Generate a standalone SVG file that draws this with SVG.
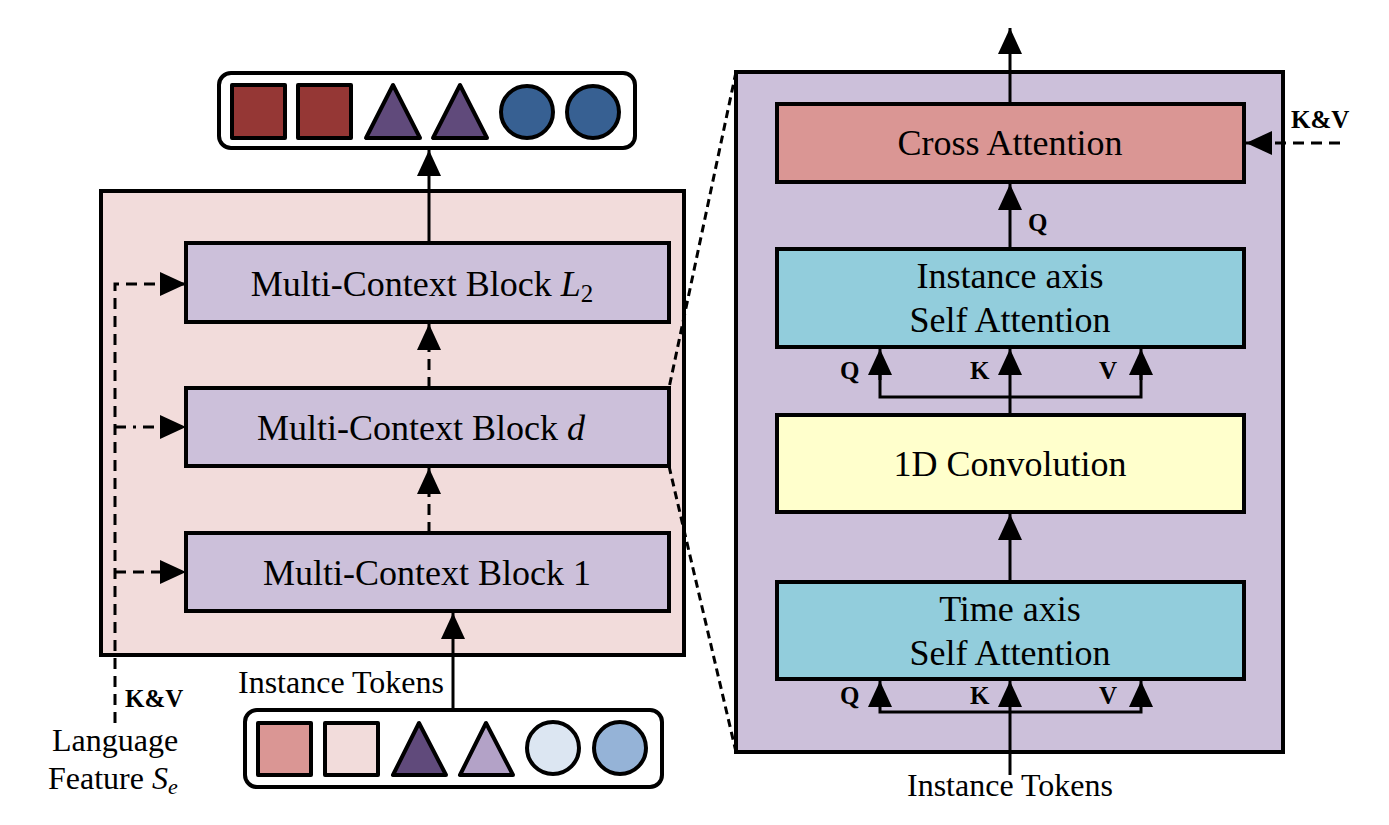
<svg xmlns="http://www.w3.org/2000/svg" width="1389" height="825" viewBox="0 0 1389 825">
<style>
.box{stroke:#000;stroke-width:4}
.blk{fill:#CCC0DA;stroke:#000;stroke-width:4}
.t{font-family:"Liberation Serif",serif;font-size:36px;fill:#000;text-anchor:middle}
.s{font-family:"Liberation Serif",serif;font-size:32px;fill:#000}
.b{font-family:"Liberation Serif",serif;font-size:25px;font-weight:bold;fill:#000}
.ln{stroke:#000;stroke-width:3;fill:none}
.dash{stroke:#000;stroke-width:3;fill:none;stroke-dasharray:11 7}
.tok{stroke:#000;stroke-width:4;stroke-linejoin:round}
</style>
<defs>
<marker id="ah" viewBox="0 0 26 24" refX="26" refY="12" markerWidth="26" markerHeight="24" markerUnits="userSpaceOnUse" orient="auto">
<path d="M0,0 L26,12 L0,24 Z" fill="#000"/>
</marker>
</defs>
<rect width="1389" height="825" fill="#fff"/>

<g id="left-panel">
<rect x="101" y="191" width="583" height="464" fill="#F2DCDB" class="box"/>
</g>
<g id="block-L2">
<rect x="186" y="243" width="483" height="79" class="blk"/>
<text class="t" x="422" y="296">Multi-Context Block <tspan font-style="italic">L</tspan><tspan font-size="25" dy="6">2</tspan></text>
</g>
<g id="block-d">
<rect x="186" y="388" width="483" height="78" class="blk"/>
<text class="t" x="421" y="440">Multi-Context Block <tspan font-style="italic">d</tspan></text>
</g>
<g id="block-1">
<rect x="186" y="533" width="483" height="78" class="blk"/>
<text class="t" x="427" y="585">Multi-Context Block 1</text>
</g>

<g id="output-tokens">
<rect x="219" y="73" width="416" height="75" rx="12" fill="#fff" class="box"/>
<rect x="232" y="85" width="53" height="53" fill="#953735" class="tok"/>
<rect x="298" y="85" width="53" height="53" fill="#953735" class="tok"/>
<polygon points="393,85 366,138 420,138" fill="#604A7B" class="tok"/>
<polygon points="460,85 433,138 487,138" fill="#604A7B" class="tok"/>
<circle cx="527" cy="112" r="26" fill="#376092" class="tok"/>
<circle cx="593" cy="112" r="26" fill="#376092" class="tok"/>
</g>

<g id="input-tokens">
<rect x="245" y="710" width="417" height="77" rx="12" fill="#fff" class="box"/>
<rect x="258" y="723" width="53" height="52" fill="#DA9694" class="tok"/>
<rect x="325" y="723" width="53" height="52" fill="#F2DCDB" class="tok"/>
<polygon points="419,723 393,775 446,775" fill="#604A7B" class="tok"/>
<polygon points="486,723 460,775 513,775" fill="#B3A2C7" class="tok"/>
<circle cx="553" cy="748" r="26" fill="#DCE6F2" class="tok"/>
<circle cx="620" cy="748" r="26" fill="#95B3D7" class="tok"/>
</g>

<g id="right-panel">
<rect x="736" y="72" width="547" height="680" fill="#CCC0DA" class="box"/>
</g>
<g id="cross-attention">
<rect x="777" y="104" width="467" height="78" fill="#DA9694" class="box"/>
<text class="t" x="1010" y="155">Cross Attention</text>
</g>
<g id="instance-axis-sa">
<rect x="777" y="249" width="467" height="98" fill="#92CDDC" class="box"/>
<text class="t" x="1010" y="288">Instance axis</text>
<text class="t" x="1010" y="332">Self Attention</text>
</g>
<g id="conv1d">
<rect x="777" y="415" width="467" height="97" fill="#FFFFCC" class="box"/>
<text class="t" x="1010" y="476">1D Convolution</text>
</g>
<g id="time-axis-sa">
<rect x="777" y="582" width="467" height="97" fill="#92CDDC" class="box"/>
<text class="t" x="1010" y="621">Time axis</text>
<text class="t" x="1010" y="665">Self Attention</text>
</g>

<g id="connectors">
<line class="ln" x1="429" y1="243" x2="429" y2="150" marker-end="url(#ah)"/>
<line class="dash" x1="429" y1="388" x2="429" y2="324" marker-end="url(#ah)" stroke-dasharray="8 6"/>
<line class="dash" x1="429" y1="533" x2="429" y2="468" marker-end="url(#ah)" stroke-dasharray="8 6"/>
<line class="ln" x1="453" y1="710" x2="453" y2="613" marker-end="url(#ah)"/>
<polyline class="dash" points="115,723 115,284 186,284" marker-end="url(#ah)" stroke-dasharray="11 7"/>
<line class="ln" x1="115" y1="427" x2="186" y2="427" marker-end="url(#ah)" stroke-dasharray="11 7 3 7"/>
<line class="dash" x1="115" y1="572" x2="186" y2="572" marker-end="url(#ah)" stroke-dasharray="11 7"/>
<line class="ln" x1="736" y1="72" x2="669" y2="388" stroke-dasharray="8 5"/>
<line class="ln" x1="669" y1="466" x2="736" y2="752" stroke-dasharray="8 5"/>
<line class="ln" x1="1010" y1="104" x2="1010" y2="28" marker-end="url(#ah)"/>
<line class="ln" x1="1010" y1="249" x2="1010" y2="184" marker-end="url(#ah)"/>
<line class="dash" x1="1340" y1="143" x2="1246" y2="143" marker-end="url(#ah)" stroke-dasharray="12 8"/>
<line class="ln" x1="1010" y1="415" x2="1010" y2="349" marker-end="url(#ah)"/>
<polyline class="ln" points="880,372 880,397 1141,397 1141,372"/>
<line class="ln" x1="880" y1="380" x2="880" y2="349" marker-end="url(#ah)"/>
<line class="ln" x1="1141" y1="380" x2="1141" y2="349" marker-end="url(#ah)"/>
<line class="ln" x1="1010" y1="582" x2="1010" y2="514" marker-end="url(#ah)"/>
<line class="ln" x1="1010" y1="775" x2="1010" y2="681" marker-end="url(#ah)"/>
<polyline class="ln" points="880,700 880,712 1141,712 1141,700"/>
<line class="ln" x1="880" y1="705" x2="880" y2="681" marker-end="url(#ah)"/>
<line class="ln" x1="1141" y1="705" x2="1141" y2="681" marker-end="url(#ah)"/>
</g>

<g id="labels">
<text class="b" x="1028" y="231">Q</text>
<text class="b" x="1291" y="128">K&amp;V</text>
<text class="b" x="840" y="379">Q</text>
<text class="b" x="970" y="379">K</text>
<text class="b" x="1099" y="379">V</text>
<text class="b" x="840" y="704">Q</text>
<text class="b" x="970" y="704">K</text>
<text class="b" x="1099" y="704">V</text>
<text class="s" x="1010" y="796" text-anchor="middle">Instance Tokens</text>
<text class="s" x="341" y="693" text-anchor="middle">Instance Tokens</text>
<text class="b" x="125" y="707">K&amp;V</text>
<text class="s" x="115" y="751" text-anchor="middle" font-size="31">Language</text>
<text class="s" x="48" y="789" font-size="31">Feature <tspan font-style="italic">S</tspan><tspan font-style="italic" font-size="22" dy="5">e</tspan></text>
</g>
</svg>
